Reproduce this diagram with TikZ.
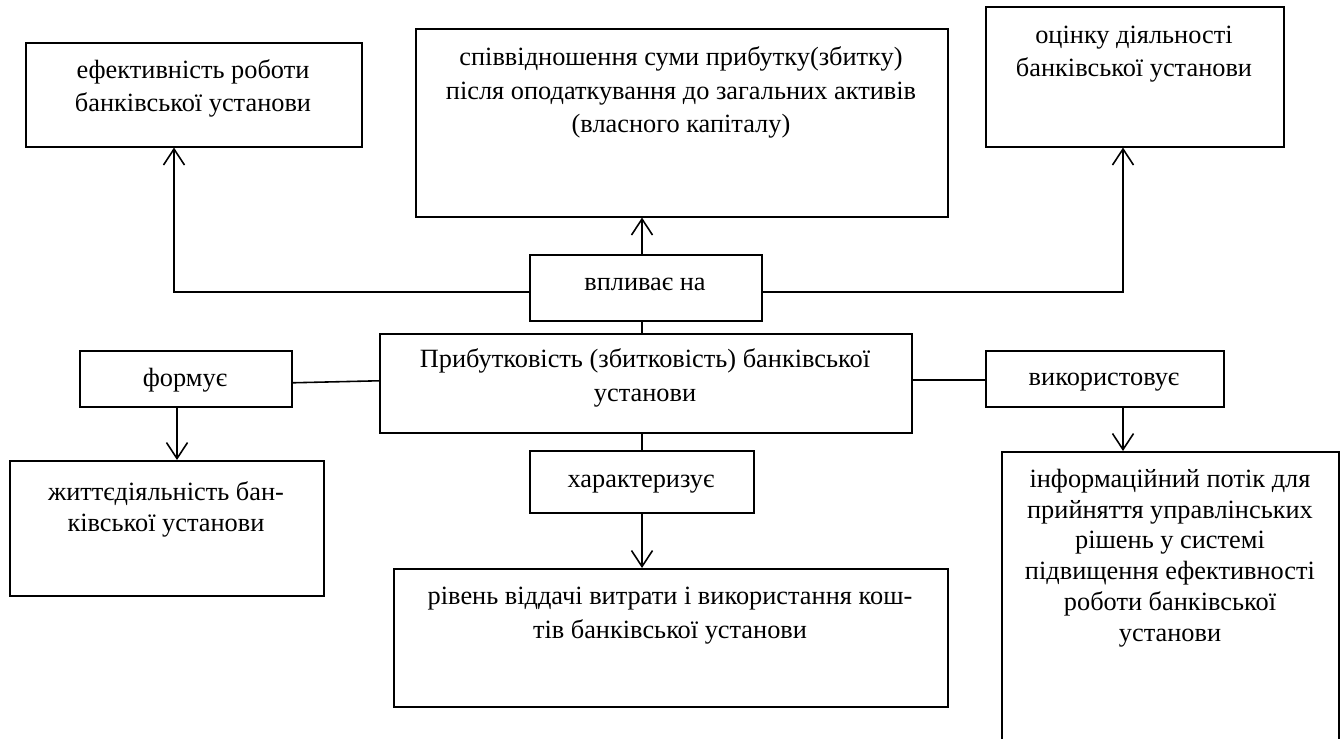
\documentclass[tikz,border=0pt]{standalone}
\usepackage{fontspec}
\setmainfont{Liberation Serif}
\usetikzlibrary{arrows.meta}
\newcommand\mkbox[5]{\node[box, minimum width={(#4-#2)*0.02cm}, minimum height={(#5-#3)*0.02cm}] (#1) at (#2,#3) {};}
\begin{document}
\begin{tikzpicture}[x=0.02cm,y=-0.02cm,
  box/.style={draw, line width=0.9pt, rectangle, inner sep=0pt, anchor=north west},
  txt/.style={font=\fontsize{15}{19.3}\selectfont, align=center, anchor=base, inner sep=0pt},
  txtb/.style={txt, font=\fontsize{15}{17.5}\selectfont},
  conn/.style={line width=0.9pt},
  arr/.style={line width=0.9pt, -{Straight Barb[length=0.32cm,width=0.42cm]}}]
\useasboundingbox (0,0) rectangle (1341,739);
\mkbox{b1}{25}{42}{361}{146}
\mkbox{b2}{415}{28}{947}{216}
\mkbox{b3}{985}{6}{1283}{146}
\mkbox{vpl}{529}{254}{761}{320}
\mkbox{pr}{379}{333}{911}{432}
\mkbox{fo}{79}{350}{291}{406}
\mkbox{vy}{985}{350}{1223}{406}
\mkbox{b8}{9}{460}{323}{595}
\mkbox{ha}{529}{450}{753}{512}
\mkbox{b10}{393}{568}{947}{706}
\mkbox{b11}{1001}{451}{1338}{790}
% anchor=base of a multi-line node is the baseline of its last line
\node[txt] (t1) at (193,112) {ефективність роботи\\банківської установи};
\node[txt] (t2) at (681,133) {співвідношення суми прибутку(збитку)\\після оподаткування до загальних активів\\(власного капіталу)};
\node[txt] (t3) at (1134,77) {оцінку діяльності\\банківської установи};
\node[txt] (tv) at (645,291) {впливає на};
\node[txt] (tp) at (645,401) {Прибутковість (збитковість) банківської\\установи};
\node[txt] (tf) at (185,387) {формує};
\node[txt] (tvy) at (1104,386) {використовує};
\node[txt] (th) at (641,487) {характеризує};
\node[txtb] (t8) at (166,531) {життєдіяльність бан-\\ківської установи};
\node[txt] (t10) at (670,638) {рівень віддачі витрати і використання кош-\\тів банківської установи};
\node[txtb] (t11) at (1170,641) {інформаційний потік для\\прийняття управлінських\\рішень у системі\\підвищення ефективності\\роботи банківської\\установи};
\coordinate (c1) at (174,292);
\coordinate (c2) at (1123,292);
\coordinate (c3) at (642,0);
\coordinate (c4) at (0,380);
\coordinate (c5) at (177,0);
\draw[arr] (vpl.west |- c1) -- (c1) -- (c1 |- b1.south);
\draw[arr] (vpl.east |- c2) -- (c2) -- (c2 |- b3.south);
\draw[arr] (vpl.north -| c3) -- (b2.south -| c3);
\draw[conn] (pr.north -| c3) -- (vpl.south -| c3);
\draw[conn] ([yshift=-0.08cm]fo.east) -- ([yshift=0.05cm]pr.west);
\draw[conn] (pr.east |- c4) -- (vy.west |- c4);
\draw[arr] (fo.south -| c5) -- (b8.north -| c5);
\draw[arr] (vy.south -| c2) -- (b11.north -| c2);
\draw[conn] (pr.south -| c3) -- (ha.north -| c3);
\draw[arr] (ha.south -| c3) -- (b10.north -| c3);
\end{tikzpicture}
\end{document}
